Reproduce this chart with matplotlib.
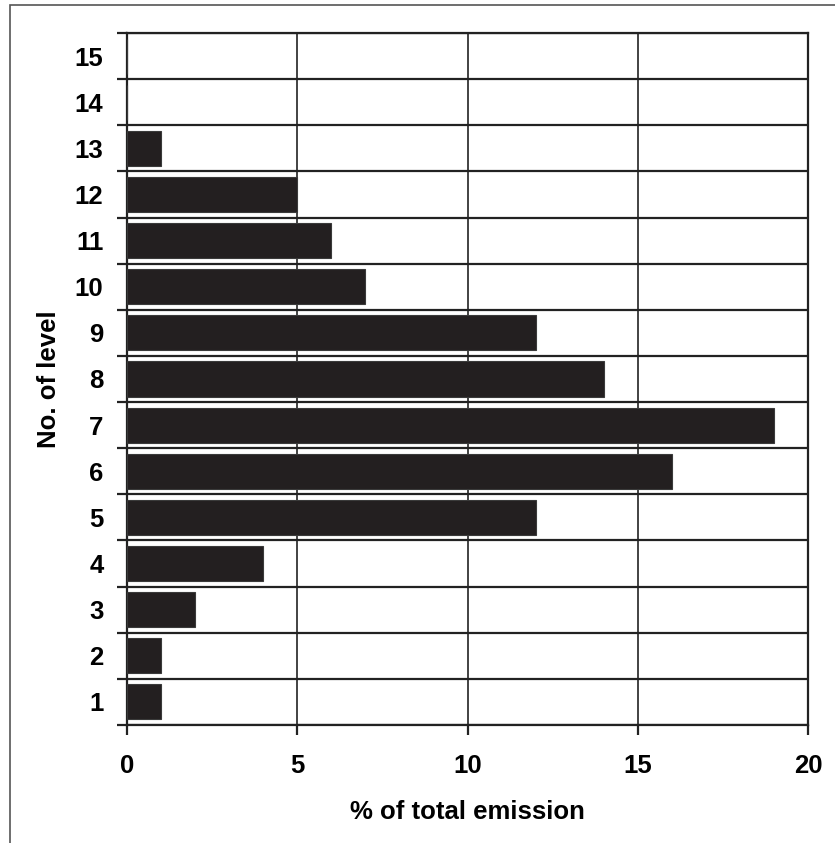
import matplotlib.pyplot as plt
from matplotlib.patches import Rectangle

# Emission share per level
levels = list(range(1, 16))
emission = [1, 1, 2, 4, 12, 16, 19, 14, 12, 7, 6, 5, 1, 0, 0]

plt.rcParams['font.family'] = ['Liberation Sans', 'DejaVu Sans']
plt.rcParams['font.weight'] = 'bold'

fig = plt.figure(figsize=(8.35, 8.43), dpi=100)
ax = fig.add_axes([127 / 835, 1 - 725 / 843, (808 - 127) / 835, (725 - 33) / 843])

ax.barh(levels, emission, height=0.76, color='#231f20', edgecolor='#3a3a3a', linewidth=0.8, zorder=3)

ax.set_xlim(0, 20)
ax.set_ylim(0.5, 15.5)
ax.set_xticks([0, 5, 10, 15, 20])
ax.set_yticks(levels)
ax.set_yticks([l + 0.5 for l in range(0, 16)], minor=True)
ax.tick_params(axis='y', which='major', length=0, pad=17, labelsize=18.5)
ax.tick_params(axis='y', which='minor', length=7, width=1.6, color='#222222')
ax.tick_params(axis='x', length=7, width=1.6, color='#222222', pad=14, labelsize=18.5)
ax.grid(axis='x', color='#222222', linewidth=1.2, zorder=1)
ax.grid(axis='y', which='minor', color='#222222', linewidth=1.6, zorder=1)
for s in ax.spines.values():
    s.set_linewidth(1.6)
    s.set_color('#222222')

ax.set_xlabel('% of total emission', fontsize=18.5, fontweight='bold', labelpad=16)
ax.set_ylabel('No. of level', fontsize=18.5, fontweight='bold', labelpad=10)

# outer frame
fig.patches.append(Rectangle((10 / 835, -0.1), 1.2, 1 - 5 / 843 + 0.1, transform=fig.transFigure,
                             fill=False, edgecolor='#555555', linewidth=1.2))

fig.savefig('out.png', dpi=100)
